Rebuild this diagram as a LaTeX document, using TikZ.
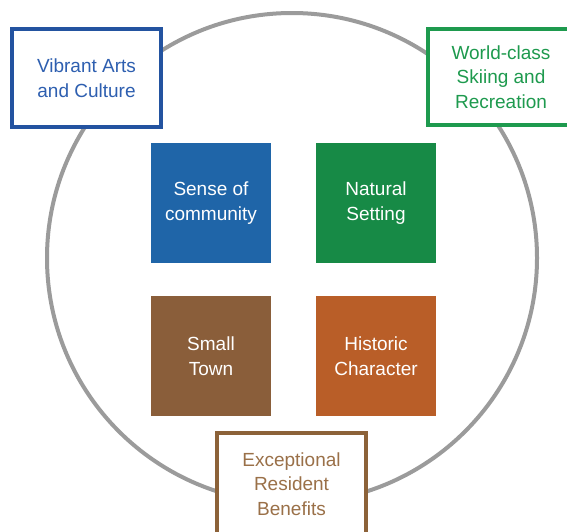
\documentclass[tikz,border=0pt]{standalone}
\usepackage{fontspec}
\setmainfont{Liberation Sans}
\definecolor{ringgray}{HTML}{9B9B9B}
\definecolor{artblue}{HTML}{2353A0}
\definecolor{arttext}{HTML}{2E5FB0}
\definecolor{skigreen}{HTML}{1E9A4E}
\definecolor{benbrown}{HTML}{8C6239}
\definecolor{bentext}{HTML}{9A7048}
\definecolor{sqblue}{HTML}{1F65A8}
\definecolor{sqgreen}{HTML}{178A46}
\definecolor{sqbrown}{HTML}{8A5E3A}
\definecolor{sqorange}{HTML}{B95E28}
\tikzset{
  txt/.style={font=\fontsize{19}{24.5}\selectfont, align=center},
  outerbox/.style={txt, line width=4pt, fill=white, inner sep=0pt},
  square/.style={txt, text=white, minimum width=120pt, minimum height=120pt, inner sep=0pt}
}
\begin{document}
\begin{tikzpicture}[x=1pt,y=-1pt]
\useasboundingbox (0,0) rectangle (567,531);
\clip (0,0) rectangle (567,531);
% ring
\draw[ringgray, line width=4pt] (292,258) circle[radius=245];
% outer boxes
\node[outerbox, draw=artblue, text=arttext, minimum width=149pt, minimum height=98pt] (arts) at (86.5,78) {Vibrant Arts\\and Culture};
\node[outerbox, draw=skigreen, text=skigreen, minimum width=146pt, minimum height=96pt] (ski) at (501,77) {World-class\\Skiing and\\Recreation};
\node[outerbox, draw=benbrown, text=bentext, minimum width=149pt, minimum height=102pt] (ben) at (291.5,484) {Exceptional\\Resident\\Benefits};
% inner squares
\node[square, fill=sqblue] (comm) at (211,203) {Sense of\\community};
\node[square, fill=sqgreen] (nat) at (376,203) {Natural\\Setting};
\node[square, fill=sqbrown] (town) at (211,356) {Small\\Town};
\node[square, fill=sqorange] (hist) at (376,356) {Historic\\Character};
\end{tikzpicture}
\end{document}
